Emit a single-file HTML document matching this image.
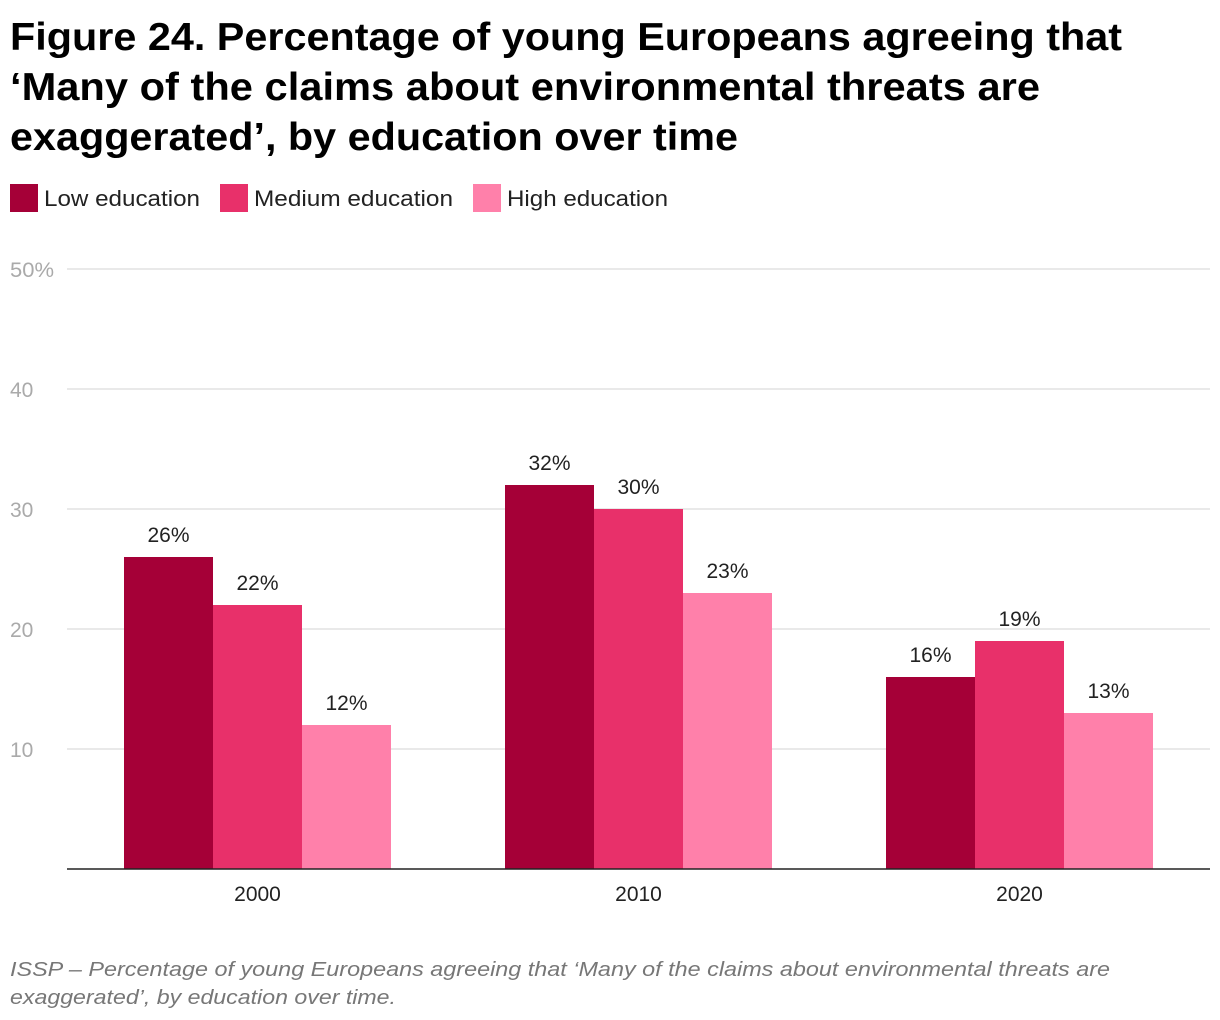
<!DOCTYPE html>
<html><head><meta charset="utf-8"><style>
html,body{margin:0;padding:0;background:#fff;}
svg{display:block;font-family:"Liberation Sans",sans-serif;}
</style></head><body>
<svg id="chart" width="1220" height="1020" viewBox="0 0 1220 1020" xmlns="http://www.w3.org/2000/svg">
<g font-weight="bold" font-size="39" fill="#000">
<text x="10" y="50" textLength="1112" lengthAdjust="spacingAndGlyphs">Figure 24. Percentage of young Europeans agreeing that</text>
<text x="10" y="100" textLength="1030" lengthAdjust="spacingAndGlyphs">‘Many of the claims about environmental threats are</text>
<text x="10" y="150" textLength="728" lengthAdjust="spacingAndGlyphs">exaggerated’, by education over time</text>
</g>
<g id="legend" font-size="22" fill="#222"></g>
<g id="grid"></g>
<g id="yaxis" font-size="21" fill="#aaa"></g>
<g id="bars"></g>
<g id="labels" font-size="21" fill="#222" text-anchor="middle"></g>
<g id="xaxis" font-size="21" fill="#222" text-anchor="middle"></g>
<g font-size="20" font-style="italic" fill="#777">
<text x="10" y="976" textLength="1100" lengthAdjust="spacingAndGlyphs">ISSP – Percentage of young Europeans agreeing that ‘Many of the claims about environmental threats are</text>
<text x="10" y="1004" textLength="386" lengthAdjust="spacingAndGlyphs">exaggerated’, by education over time.</text>
</g>
</svg>
<script>
const categories = ["2000","2010","2020"];
const seriesNames = ["Low education","Medium education","High education"];
const lowValues = [26,32,16];
const mediumValues = [22,30,19];
const highValues = [12,23,13];
const yTicks = [10,20,30,40,50];
const yTickLabels = ["10","20","30","40","50%"];

const colors = ["#a50037","#e8306a","#ff80aa"];
const series = [lowValues, mediumValues, highValues];
const NS = "http://www.w3.org/2000/svg";
const x0 = 67, x1 = 1210, y0 = 869, yTop = 269, yMax = 50;
const groupW = (x1 - x0) / categories.length;
const barW = 89;
function yScale(v){ return y0 - (v / yMax) * (y0 - yTop); }
function groupCenter(i){ return x0 + groupW * (i + 0.5); }
function mk(tag, attrs){ const e = document.createElementNS(NS, tag); for (const k in attrs) e.setAttribute(k, attrs[k]); return e; }

const legend = document.getElementById('legend');
const legendX = [10, 220, 473];
const legendW = [156, 199, 161];
seriesNames.forEach((n, i) => {
  const r = mk('rect', {x: legendX[i], y: 184, width: 28, height: 28, fill: colors[i]});
  
  
  legend.appendChild(r);
  const t = mk('text', {x: legendX[i] + 34, y: 206, textLength: legendW[i], lengthAdjust: 'spacingAndGlyphs'});
  
  
  t.textContent = n;
  legend.appendChild(t);
});

const grid = document.getElementById('grid');
const yaxis = document.getElementById('yaxis');
yTicks.forEach((v, i) => {
  const y = yScale(v);
  const l = mk('line', {x1: x0, x2: x1, y1: y, y2: y, stroke: '#e2e2e2', 'stroke-width': 1.5});
  
  
  grid.appendChild(l);
  const t = mk('text', {x: 10, y: y + 8});
  if (yTickLabels[i].length > 2) { t.setAttribute('textLength', 44); t.setAttribute('lengthAdjust', 'spacingAndGlyphs'); }
  
  
  t.textContent = yTickLabels[i];
  yaxis.appendChild(t);
});

const bars = document.getElementById('bars');
const labels = document.getElementById('labels');
const xaxis = document.getElementById('xaxis');
categories.forEach((c, i) => {
  const cx = groupCenter(i);
  series.forEach((s, j) => {
    const bx = cx - barW * 1.5 + j * barW;
    const y = yScale(s[i]);
    const r = mk('rect', {x: bx, y: y, width: barW, height: y0 - y, fill: colors[j]});
    
    
    bars.appendChild(r);
    const t = mk('text', {x: bx + barW / 2, y: y - 15});
    
    
    t.textContent = s[i] + '%';
    labels.appendChild(t);
  });
  const t = mk('text', {x: cx, y: 901});
  
  
  t.textContent = c;
  xaxis.appendChild(t);
});
const base = mk('line', {x1: x0, x2: x1, y1: y0, y2: y0, stroke: '#222', 'stroke-width': 1.5});


xaxis.appendChild(base);
</script>
</body></html>
